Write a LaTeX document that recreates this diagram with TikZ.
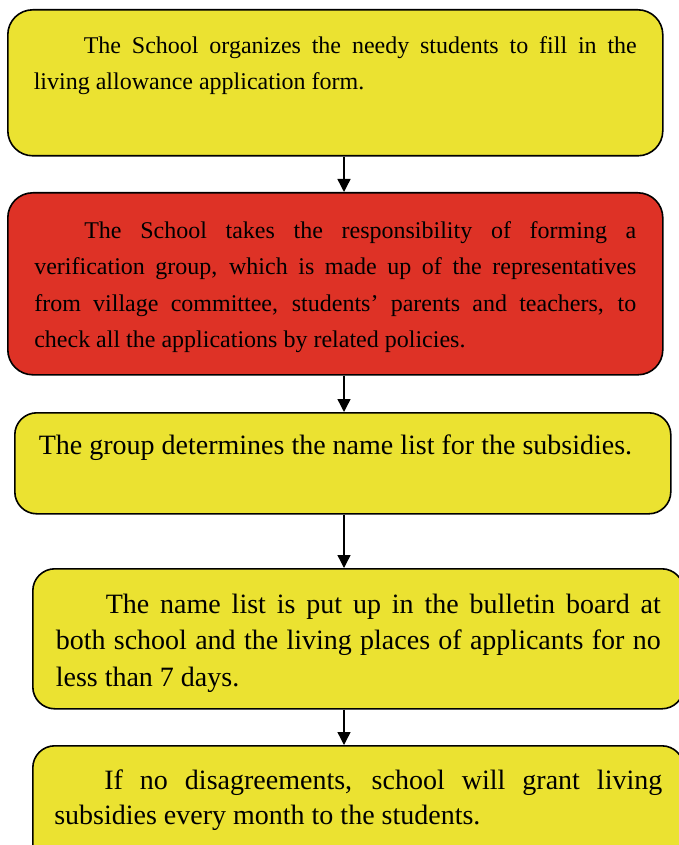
\documentclass[tikz,border=0pt]{standalone}
\usepackage{fontspec}
\setmainfont{Liberation Serif}
\usepackage{tikz}
\usetikzlibrary{arrows.meta}
\definecolor{stepyellow}{RGB}{235,226,49}
\definecolor{stepred}{RGB}{222,50,38}
\tikzset{%
    stepbox/.style={%
        draw, line width=0.8pt, rounded corners=11pt, fill=stepyellow,
        anchor=north west, inner xsep=0pt
    },
    flow/.style={line width=0.7pt, -{Triangle[length=6.5pt,width=6.5pt]}}
}
% paragraph of fixed size, text at the top
\newcommand{\boxpar}[4][25pt]{\parbox[t][#3][t]{#2}{\hspace*{#1}#4}}

\begin{document}
\begin{tikzpicture}[x=0.5pt,y=-0.5pt]
    \useasboundingbox (0,0) rectangle (679,845);
    \clip (0,0) rectangle (679,845);
    \coordinate (axis) at (344,0);

    \node[stepbox, rounded corners=12.5pt, minimum width=327.5pt, inner ysep=13.3pt] (form) at (7,9)
        {\fontsize{12}{18}\selectfont\boxpar{301.5pt}{46.4pt}{The School organizes the needy students to fill in the\linebreak living allowance application form.}};
    \node[stepbox, rounded corners=12.5pt, fill=stepred, minimum width=327.5pt, inner ysep=14.3pt] (check) at (7,192)
        {\fontsize{12}{18.2}\selectfont\boxpar{301pt}{62.4pt}{The School takes the responsibility of forming a\linebreak verification group, which is made up of the representatives\linebreak from village committee, students' parents and teachers, to\linebreak check all the applications by related policies.}};
    \node[stepbox, minimum width=328pt, inner ysep=10.95pt] (list) at (14,412)
        {\fontsize{14}{18}\selectfont\boxpar[0pt]{304pt}{28.6pt}{The group determines the name list for the subsidies.}};
    \node[stepbox, minimum width=325.5pt, inner ysep=12.45pt] (board) at (32,568)
        {\fontsize{14}{18.25}\selectfont\boxpar{302.5pt}{45.1pt}{The name list is put up in the bulletin board at\linebreak both school and the living places of applicants for no\linebreak less than 7 days.}};
    \node[stepbox, minimum width=325.5pt, inner ysep=12pt] (grant) at (32,745)
        {\fontsize{14}{17.5}\selectfont\boxpar{304pt}{36pt}{If no disagreements, school will grant living\linebreak subsidies every month to the students.}};

    \foreach \a/\b in {form/check, check/list, list/board, board/grant}
    {
    \draw[flow] (\a.south -| axis) -- (\b.north -| axis);
    }
\end{tikzpicture}
\end{document}
